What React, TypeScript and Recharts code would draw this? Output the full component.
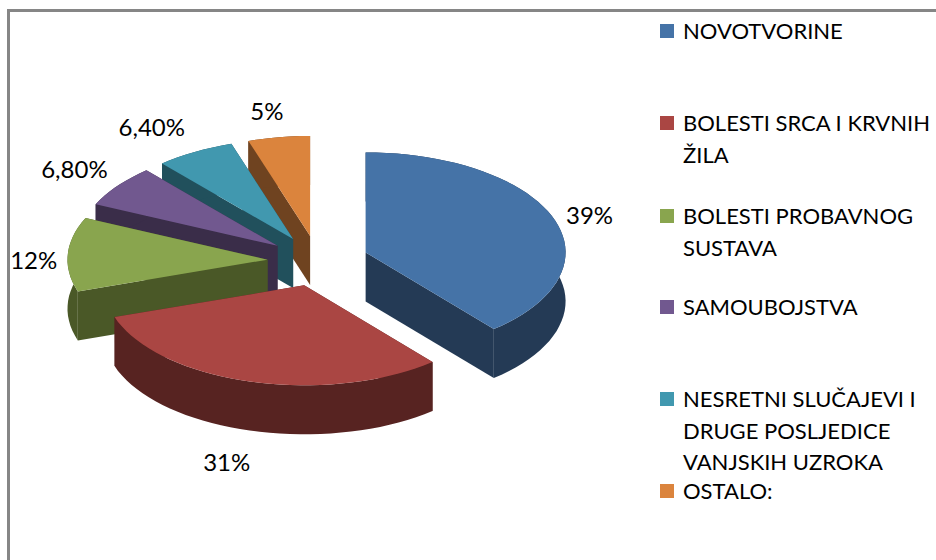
import React from 'react';
import { PieChart, Pie, Legend } from 'recharts';

// values
const categories = [
  'NOVOTVORINE',
  'BOLESTI SRCA I KRVNIH ŽILA',
  'BOLESTI PROBAVNOG SUSTAVA',
  'SAMOUBOJSTVA',
  'NESRETNI SLUČAJEVI I DRUGE POSLJEDICE VANJSKIH UZROKA',
  'OSTALO:',
];
const values = [39, 31, 12, 6.8, 6.4, 5];
const valueLabels = ['39%', '31%', '12%', '6,80%', '6,40%', '5%'];

const topColors = ['#4573A7', '#AA4643', '#89A54E', '#71588F', '#4198AF', '#DB843D'];
const sideColors = ['#243A55', '#572321', '#4A5827', '#3A2D49', '#21505C', '#6F4320'];

// label nudge from the rim of its slice
const labelNudge = [
  [36, -4],
  [-23, 80],
  [-34, 5],
  [-43, -17],
  [-43, -25],
  [-12, -27],
];
// centre of the first line of each legend entry
const legendRows = [31, 123, 216, 307, 399, 491];

const SQUASH = 0.5; // tilt of the pie plane
const DEPTH = 49; // height of the extruded side
const EXPLODE = 0.253; // share of the radius each slice is pulled out
const FONT = 'Lato, sans-serif';
const LEGEND_SIZE = 22;
const LABEL_SIZE = 24;
const LINE = 31.5;

// the back slices have to be painted first, so the table runs backwards
// and the pie goes counter clockwise from 12 o'clock
const rows = categories
  .map((name, i) => ({
    name,
    value: values[i],
    label: valueLabels[i],
    fill: topColors[i],
    side: sideColors[i],
    nudge: labelNudge[i],
  }))
  .reverse();

const rad = (deg: number) => (deg * Math.PI) / 180;

function project(cx: number, cy: number, r: number, deg: number) {
  return [cx + r * Math.cos(rad(deg)), cy - r * SQUASH * Math.sin(rad(deg))];
}

const toPath = (pts: number[][]) =>
  'M' + pts.map((p) => `${p[0].toFixed(1)},${p[1].toFixed(1)}`).join('L') + 'Z';
const lower = (pts: number[][]) => pts.map((p) => [p[0], p[1] + DEPTH]);

function Slice3D(props: any) {
  const { cx, cy, outerRadius, startAngle, endAngle, midAngle, fill, payload } = props;
  const apex = project(cx, cy, outerRadius * EXPLODE, midAngle);

  // rim of the slice, slightly faceted like the original
  const n = Math.max(2, Math.ceil(Math.abs(endAngle - startAngle) / 3));
  const rim: number[][] = [];
  for (let i = 0; i <= n; i++) {
    const a = startAngle + ((endAngle - startAngle) * i) / n;
    const p = project(0, 0, outerRadius, a);
    rim.push([apex[0] + p[0], apex[1] + p[1]]);
  }
  const first = rim[0];
  const last = rim[rim.length - 1];

  return (
    <g>
      <path d={toPath([apex, first, lower([first])[0], lower([apex])[0]])} fill={payload.side} />
      <path d={toPath([apex, last, lower([last])[0], lower([apex])[0]])} fill={payload.side} />
      <path d={toPath([...rim, ...lower(rim).reverse()])} fill={payload.side} />
      <path d={toPath([apex, ...rim])} fill={fill} />
    </g>
  );
}

function renderLabel(props: any) {
  const { cx, cy, outerRadius, midAngle, payload } = props;
  const apex = project(cx, cy, outerRadius * EXPLODE, midAngle);
  const p = project(0, 0, outerRadius, midAngle);
  return (
    <text
      x={apex[0] + p[0] + payload.nudge[0]}
      y={apex[1] + p[1] + payload.nudge[1]}
      textAnchor="middle"
      dominantBaseline="central"
      fontFamily={FONT}
      fontSize={LABEL_SIZE}
      fill="#000"
    >
      {payload.label}
    </text>
  );
}

function renderLegend({ payload }: any) {
  return (
    <div>
      {categories.map((name, i) => {
        const entry = (payload || []).find((p: any) => p.value === name);
        return (
          <div key={name}>
            <div
              style={{
                position: 'absolute',
                left: 660,
                top: legendRows[i] - 7,
                width: 14,
                height: 14,
                background: entry ? entry.color : topColors[i],
              }}
            />
            <div
              style={{
                position: 'absolute',
                left: 683,
                top: legendRows[i] - LINE / 2,
                width: 252,
                fontFamily: FONT,
                fontSize: LEGEND_SIZE,
                lineHeight: `${LINE}px`,
                color: '#000',
              }}
            >
              {name}
            </div>
          </div>
        );
      })}
    </div>
  );
}

export default function App() {
  return (
    <div style={{ position: 'absolute', left: 0, top: 0, width: 936, height: 560, overflow: 'hidden', background: '#fff' }}>
      {/* chart frame, cut off on the right and at the bottom */}
      <div
        style={{
          position: 'absolute',
          left: 7,
          top: 9,
          width: 960,
          height: 600,
          borderTop: '3px solid #868686',
          borderLeft: '3px solid #868686',
        }}
      />
      <div style={{ position: 'absolute', left: 0, top: 0 }}>
        <PieChart width={936} height={560} margin={{ top: 0, right: 0, bottom: 0, left: 0 }}>
          <Pie
            data={rows}
            dataKey="value"
            nameKey="name"
            cx={318}
            cy={261}
            innerRadius={0}
            outerRadius={200}
            startAngle={-270}
            endAngle={90}
            stroke="none"
            shape={Slice3D}
            label={renderLabel}
            labelLine={false}
            isAnimationActive={false}
          />
          <Legend
            content={renderLegend}
            itemSorter={null}
            wrapperStyle={{ position: 'absolute', left: 0, top: 0, width: 936, height: 0, bottom: 'auto' }}
          />
        </PieChart>
      </div>
    </div>
  );
}
